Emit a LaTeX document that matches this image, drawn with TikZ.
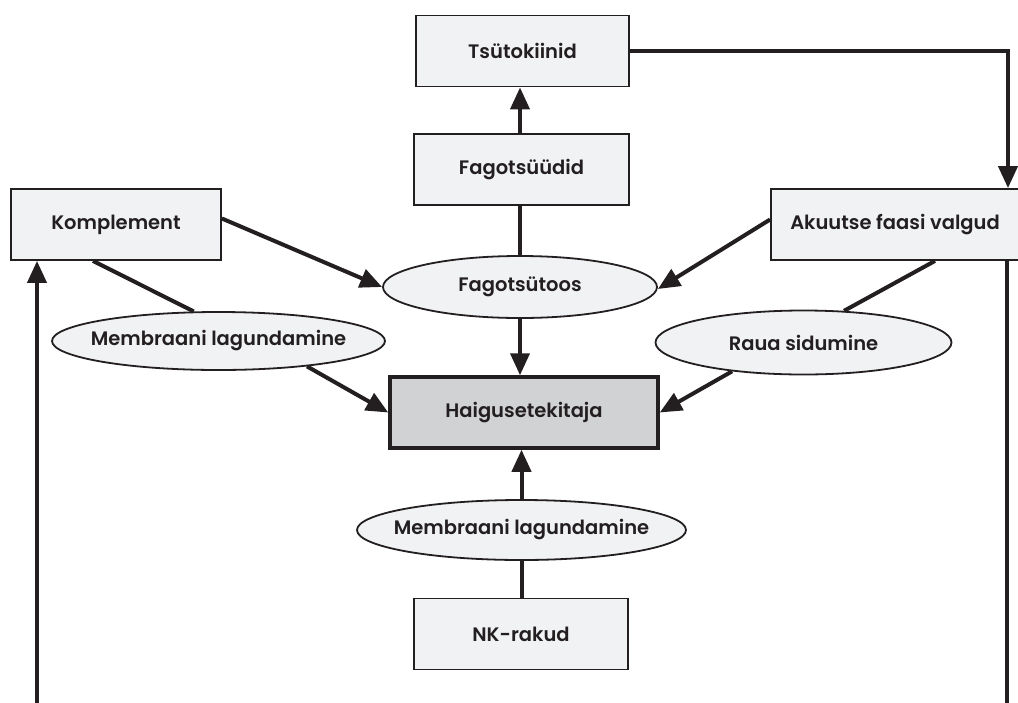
\documentclass[tikz,border=0pt]{standalone}
\usepackage{fontspec}
\setmainfont{Poppins}[BoldFont={Poppins SemiBold}]
\usetikzlibrary{shapes.geometric,arrows.meta}
\definecolor{ink}{HTML}{231F20}
\definecolor{boxfill}{HTML}{F1F2F4}
\definecolor{hostfill}{HTML}{D1D2D4}
\begin{document}
\begin{tikzpicture}[x=1pt,y=-1pt,
  label/.style={font=\fontsize{19.5}{22}\selectfont\bfseries, text=ink},
  box/.style={label, rectangle, draw=ink, line width=1.8pt, fill=boxfill,
    inner sep=0pt, minimum width=#1, minimum height=71pt},
  host/.style={label, rectangle, draw=ink, line width=3.5pt, fill=hostfill,
    inner sep=0pt, minimum width=#1, minimum height=71pt},
  % negative x padding keeps the ellipse at its given size around long labels
  proc/.style={label, ellipse, draw=ink, line width=1.8pt, fill=boxfill,
    inner xsep=-80pt, inner ysep=0pt},
  conn/.style={draw=ink, line width=4pt},
  arr/.style={conn, -{Triangle[length=22pt,width=19pt]}}]
\useasboundingbox (0,0) rectangle (1018,702);

% cells and proteins
\node[box=213pt] (tsu)  at (522.5,51)   {Tsütokiinid};
\node[box=215pt] (fagz) at (521.5,169.5) {Fagotsüüdid};
\node[box=210pt] (komp) at (116,224.5)  {Komplement};
\node[box=248pt] (aku)  at (895,224.5)  {Akuutse faasi valgud};
\node[box=214pt] (nk)   at (521,634)    {NK-rakud};
\node[host=268pt] (haig) at (524,412.5) {Haigusetekitaja};

% processes
\node[proc, minimum width=274pt, minimum height=62pt] (fago) at (520,287)   {Fagotsütoos};
\node[proc, minimum width=333pt, minimum height=58pt] (memL) at (218.5,341)  {Membraani lagundamine};
\node[proc, minimum width=296pt, minimum height=64pt] (raua) at (803.5,342.5) {Raua sidumine};
\node[proc, minimum width=329pt, minimum height=60pt] (memB) at (521.5,530)  {Membraani lagundamine};

% free ends of the long side links
\coordinate (lowL) at (37,706);
\coordinate (lowR) at (1007,706);

% links
\draw[arr] (fagz.north -| 520,0) -- (tsu.south -| 520,0);
\draw[conn] (fago.north) -- (fago.north |- fagz.south);
\draw[arr] (tsu.east) -| ([xshift=113pt]aku.north);
\draw[arr] ([yshift=6pt]komp.east) -- (fago.west);
\draw[arr] ([yshift=5pt]aku.west) -- ([yshift=-2pt]fago.east);
\draw[conn] ([xshift=-23pt]komp.south) -- (memL.130);
\draw[arr] (memL.-16) -- (haig.west);
\draw[conn] ([xshift=40pt]aku.south) -- (raua.38);
\draw[arr] (raua.202) -- (haig.east);
\draw[arr] (fago.south) -- (fago.south |- haig.north);
\draw[arr] (memB.north) -- (memB.north |- haig.south);
\draw[conn] (nk.north -| memB.south) -- (memB.south);
\draw[arr] (lowL) -- (lowL |- komp.south);
\draw[conn] (aku.south -| lowR) -- (lowR);
\end{tikzpicture}
\end{document}
